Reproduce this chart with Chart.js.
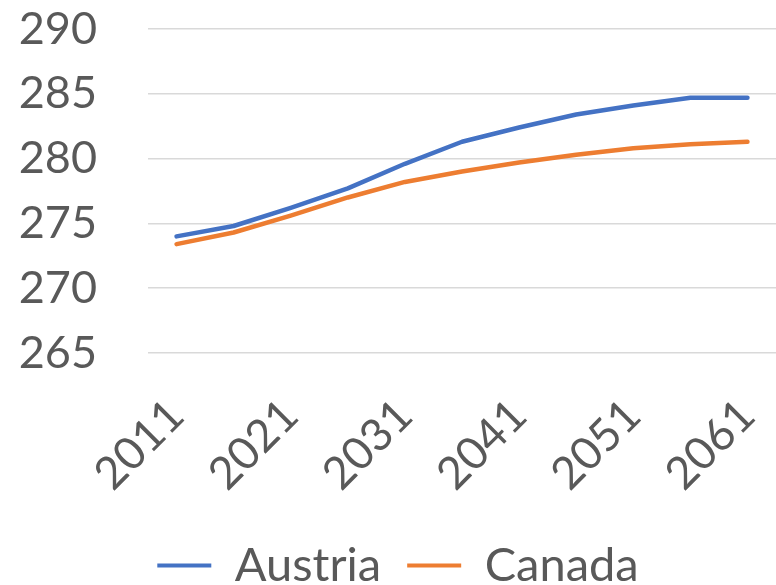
<!DOCTYPE html>
<html>
<head>
<meta charset="utf-8">
<script src="https://cdn.jsdelivr.net/npm/chart.js@4"></script>
<style>
  html, body { margin: 0; padding: 0; background: #ffffff; }
  #wrap { width: 776px; height: 585px; position: relative; }
</style>
</head>
<body>
<div id="wrap"><canvas id="popChart"></canvas></div>
<script>
// years (every 5 years, only every other one is labelled)
const years = ["2011", "2016", "2021", "2026", "2031", "2036", "2041", "2046", "2051", "2056", "2061"];
const austria = [274.0, 274.8, 276.2, 277.7, 279.6, 281.3, 282.4, 283.4, 284.1, 284.7, 284.7];
const canada = [273.4, 274.3, 275.6, 277.0, 278.2, 279.0, 279.7, 280.3, 280.8, 281.1, 281.3];
const yTicks = [265, 270, 275, 280, 285, 290];

const textColor = "#595959";
const fontFamily = "Lato, 'Open Sans', sans-serif";

const ctx = document.getElementById("popChart");

new Chart(ctx.getContext("2d"), {
  type: "line",
  data: {
    labels: years,
    datasets: [
      {
        label: "Austria",
        data: austria,
        borderColor: "#4472C4",
        backgroundColor: "#4472C4",
        borderWidth: 4.5,
        pointRadius: 0,
        tension: 0,
        borderCapStyle: "round",
        borderJoinStyle: "round",
      },
      {
        label: "Canada",
        data: canada,
        borderColor: "#ED7D31",
        backgroundColor: "#ED7D31",
        borderWidth: 4.5,
        pointRadius: 0,
        tension: 0,
        borderCapStyle: "round",
        borderJoinStyle: "round",
      },
    ],
  },
  options: {
    responsive: true,
    maintainAspectRatio: false,
    animation: false,
    layout: {
      padding: { top: 29, left: 20, right: 0, bottom: -14 },
    },
    plugins: {
      legend: {
        position: "bottom",
        labels: {
          color: textColor,
          font: { family: fontFamily, size: 47 },
          boxWidth: 54,
          boxHeight: 4,
          padding: 26,
          generateLabels: (chart) =>
            chart.data.datasets.map((ds, i) => ({
              text: ds.label,
              fillStyle: ds.borderColor,
              strokeStyle: ds.borderColor,
              lineWidth: 0,
              fontColor: textColor,
              datasetIndex: i,
            })),
        },
      },
      tooltip: { enabled: false },
    },
    scales: {
      x: {
        offset: true,
        grid: { display: false },
        border: { display: false },
        afterFit: (scale) => {
          scale.paddingLeft = 0;
          scale.paddingRight = 0;
          scale.height -= 13;
        },
        ticks: {
          color: textColor,
          font: { family: fontFamily, size: 45 },
          autoSkip: false,
          maxRotation: 45,
          minRotation: 45,
          padding: 28,
          callback: function (value, index) {
            return index % 2 === 0 ? this.getLabelForValue(value) : "";
          },
        },
      },
      y: {
        min: yTicks[0],
        max: yTicks[yTicks.length - 1],
        afterBuildTicks: (axis) => {
          axis.ticks = yTicks.map((v) => ({ value: v }));
        },
        afterFit: (scale) => {
          scale.width = 128;
          scale.paddingTop = 0;
          scale.paddingBottom = 0;
        },
        grid: { color: "#d9d9d9", lineWidth: 1.5, drawTicks: false },
        border: { display: false },
        ticks: {
          color: textColor,
          font: { family: fontFamily, size: 45 },
          padding: 51,
        },
      },
    },
  },
});
</script>
</body>
</html>
